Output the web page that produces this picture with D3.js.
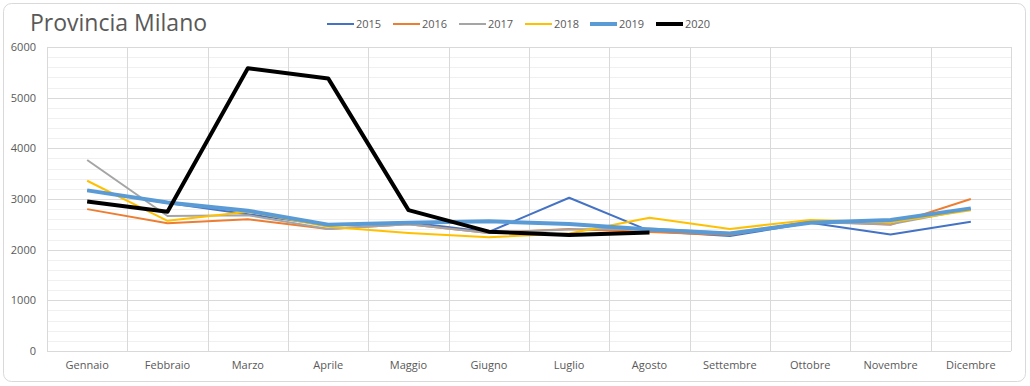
<!DOCTYPE html>
<html>
<head>
    <title>Provincia Milano</title>
    <meta charset="utf-8">
    <style type="text/css">
        body { margin: 0; background: #fff; }
        .axis text { font-family: "Open Sans", sans-serif; font-size: 11px; fill: #595959; }
        .axis path, .axis line { stroke: none; }
    </style>
</head>
<body>
<script src="https://cdn.jsdelivr.net/npm/d3@7"></script>
<script>
    /*=========DATA=========*/
    var months = ['Gennaio', 'Febbraio', 'Marzo', 'Aprile', 'Maggio', 'Giugno', 'Luglio',
                  'Agosto', 'Settembre', 'Ottobre', 'Novembre', 'Dicembre'];
    var years = ['2015', '2016', '2017', '2018', '2019', '2020'];
    var v2015 = [3170, 2920, 2700, 2480, 2540, 2350, 3025, 2370, 2270, 2530, 2300, 2550];
    var v2016 = [2800, 2520, 2600, 2410, 2500, 2330, 2410, 2350, 2290, 2560, 2490, 3000];
    var v2017 = [3770, 2665, 2680, 2410, 2500, 2330, 2400, 2420, 2330, 2540, 2500, 2800];
    var v2018 = [3360, 2570, 2750, 2450, 2330, 2245, 2320, 2630, 2410, 2585, 2540, 2780];
    var v2019 = [3170, 2930, 2770, 2490, 2530, 2560, 2505, 2400, 2320, 2530, 2585, 2815];
    var v2020 = [2950, 2750, 5580, 5380, 2780, 2355, 2290, 2340];
    var yTicks = [0, 1000, 2000, 3000, 4000, 5000, 6000];

    var colors = ['#4472c4', '#ed7d31', '#a5a5a5', '#ffc000', '#5b9bd5', '#000000'];
    var widths = [2, 2, 2, 2, 4, 4];
    var series = [v2015, v2016, v2017, v2018, v2019, v2020];

    /*=====SIZE SVG======*/
    var svgWidth = 1030, svgHeight = 386;
    var margin = { top: 47, right: 19, bottom: 35, left: 47 };
    var width = svgWidth - margin.left - margin.right;
    var height = svgHeight - margin.top - margin.bottom;

    var svg = d3.select('body').append('svg').attr('width', svgWidth).attr('height', svgHeight);

    // 外框
    svg.append('rect').attr('x', 3.5).attr('y', 3.5).attr('width', 1022).attr('height', 378)
        .attr('rx', 8).attr('fill', '#fff').attr('stroke', '#d9d9d9');

    // 标题
    svg.append('text').attr('x', 30).attr('y', 31)
        .attr('font-family', '"Open Sans", sans-serif').attr('font-size', 23)
        .attr('fill', '#595959').text('Provincia Milano');

    // 比例尺
    var xScale = d3.scaleBand().domain(months).range([0, width]).padding(0);
    var yScale = d3.scaleLinear().domain([0, 6000]).range([height, 0]);

    var focus = svg.append('g').attr('transform', 'translate(' + margin.left + ',' + margin.top + ')');

    // 网格
    focus.append('g').selectAll('line').data(d3.range(0, 6001, 200).filter(function (d) { return d % 1000 !== 0; }))
        .enter().append('line')
        .attr('x1', 0).attr('x2', width)
        .attr('y1', function (d) { return Math.round(yScale(d)) + 0.5; })
        .attr('y2', function (d) { return Math.round(yScale(d)) + 0.5; })
        .attr('stroke', '#f0f0f0');
    focus.append('g').selectAll('line').data(yTicks)
        .enter().append('line')
        .attr('x1', 0).attr('x2', width)
        .attr('y1', function (d) { return Math.round(yScale(d)) + 0.5; })
        .attr('y2', function (d) { return Math.round(yScale(d)) + 0.5; })
        .attr('stroke', '#d9d9d9');
    focus.append('g').selectAll('line').data(months.concat(['end']))
        .enter().append('line')
        .attr('x1', function (d) { return Math.round(d === 'end' ? width : xScale(d)) + 0.5; })
        .attr('x2', function (d) { return Math.round(d === 'end' ? width : xScale(d)) + 0.5; })
        .attr('y1', 0).attr('y2', height)
        .attr('stroke', '#d9d9d9');

    // 坐标轴
    var xAxis = d3.axisBottom(xScale).tickSize(0).tickPadding(10);
    var yAxis = d3.axisLeft(yScale).tickValues(yTicks).tickFormat(d3.format('d')).tickSize(0).tickPadding(11);
    focus.append('g').attr('class', 'axis').attr('transform', 'translate(0,' + height + ')').call(xAxis);
    focus.append('g').attr('class', 'axis').call(yAxis);

    // 折线
    var line = d3.line()
        .x(function (d, i) { return xScale(months[i]) + xScale.bandwidth() / 2; })
        .y(function (d) { return yScale(d); });

    focus.append('g').selectAll('path').data(series).enter().append('path')
        .attr('d', function (d) { return line(d); })
        .attr('fill', 'none')
        .attr('stroke', function (d, i) { return colors[i]; })
        .attr('stroke-width', function (d, i) { return widths[i]; })
        .attr('stroke-linejoin', 'round');

    // 图例
    var legendX = [327, 393, 459, 525, 590, 656];
    var legend = svg.append('g').selectAll('g').data(years).enter().append('g')
        .attr('transform', function (d, i) { return 'translate(' + legendX[i] + ',24)'; });
    legend.append('line').attr('x1', 0).attr('x2', 27)
        .attr('stroke', function (d, i) { return colors[i]; })
        .attr('stroke-width', function (d, i) { return widths[i]; });
    legend.append('text').attr('x', 29).attr('y', 4)
        .attr('font-family', '"Open Sans", sans-serif').attr('font-size', 11)
        .attr('fill', '#595959').text(function (d) { return d; });
</script>
</body>
</html>
